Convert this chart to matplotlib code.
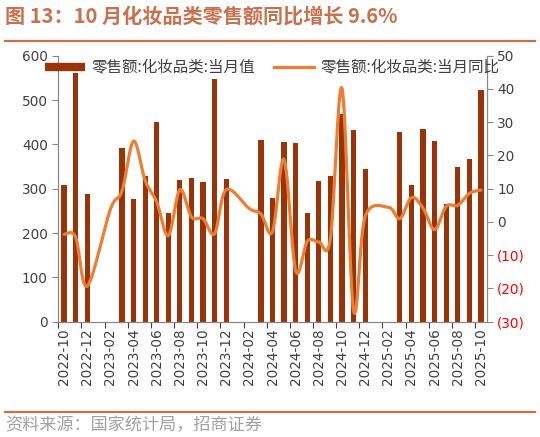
import numpy as np
import matplotlib
matplotlib.use("Agg")
import matplotlib.pyplot as plt
from matplotlib.lines import Line2D

plt.rcParams['font.family'] = ['Noto Sans CJK SC', 'DejaVu Sans']

# months 2022-10 .. 2025-10
months = []
for y in (2022, 2023, 2024, 2025):
    for m in range(1, 13):
        if (y == 2022 and m < 10) or (y == 2025 and m > 10):
            continue
        months.append(f"{y}-{m:02d}")

# retail sales, cosmetics (100m yuan); Jan/Feb not published
sales = [309, 562, 289,
         None, None, 392, 276, 329, 450, 246, 320, 325, 316, 547, 321,
         None, None, 410, 278, 405, 404, 245, 318, 329, 468, 433, 344,
         None, None, 428, 308, 434, 407, 265, 348, 368, 523]

# yoy growth (%), Jan missing
yoy = [-3.7, -4.6, -19.3,
       None, 3.8, 9.3, 24.3, 12.5, 6.0, -4.1, 9.7, 1.5, 1.0, -3.5, 9.7,
       None, 4.0, 2.4, -2.9, 18.8, -14.6, -5.8, -6.0, -5.0, 40.2, -26.6, 1.6,
       None, 4.4, 1.0, 7.3, 4.2, -2.3, 4.7, 5.0, 8.6, 9.6]

bar_color = '#9A3308'
line_color = '#EE7D31'
title_color = '#C8714E'
text_color = '#404040'

fig = plt.figure(figsize=(5.4, 4.37), dpi=100)
ax = fig.add_axes([58.3 / 540, 1 - 321.7 / 437, 428.4 / 540, 266 / 437])
ax2 = ax.twinx()

idx = np.arange(len(months))
bx = [i for i, v in zip(idx, sales) if v is not None]
bv = [v for v in sales if v is not None]
ax.bar(bx, bv, width=0.45, color=bar_color, zorder=2)

# smooth line like excel (cardinal spline in screen space)
px = np.array([i for i, v in zip(idx, yoy) if v is not None], dtype=float)
py = np.array([v for v in yoy if v is not None], dtype=float)
sx, sy = 11.58, 3.325
P = np.column_stack([px * sx, py * sy])
xs, ys = [], []
for i in range(len(P) - 1):
    p0 = P[max(i - 1, 0)]
    p1 = P[i]
    p2 = P[i + 1]
    p3 = P[min(i + 2, len(P) - 1)]
    c1 = p1 + (p2 - p0) / 6
    c2 = p2 - (p3 - p1) / 6
    t = np.linspace(0, 1, 30)[:, None]
    seg = (1 - t) ** 3 * p1 + 3 * (1 - t) ** 2 * t * c1 + 3 * (1 - t) * t ** 2 * c2 + t ** 3 * p2
    xs.extend(seg[:, 0] / sx)
    ys.extend(seg[:, 1] / sy)
ax2.plot(xs, ys, color=line_color, lw=2.3, solid_capstyle='round', zorder=3)

ax.set_xlim(-0.5, len(months) - 0.5)
ax.set_ylim(0, 600)
ax.set_yticks(range(0, 601, 100))
ax2.set_ylim(-30, 50)
rt = list(range(-30, 51, 10))
ax2.set_yticks(rt, [f"({-v})" if v < 0 else str(v) for v in rt])

ax.set_xticks(np.arange(-0.5, len(months) - 1, 2))
ax.set_xticklabels([])
ax.set_xticks(idx[::2], minor=True)
ax.set_xticklabels(months[::2], minor=True, rotation=90)
ax.tick_params(axis='x', which='minor', length=0, pad=5)
ax.tick_params(axis='x', which='major', length=4, color='#888888')

for a in (ax, ax2):
    a.spines['top'].set_visible(False)
    for s in ('left', 'right', 'bottom'):
        a.spines[s].set_color('#888888')
    a.tick_params(labelsize=9.8, colors=text_color, which='both')
    for lab in a.get_xticklabels(minor=True) + a.get_yticklabels():
        lab.set_family('DejaVu Sans')
ax.tick_params(axis='y', length=4, color='#888888')
ax2.tick_params(axis='y', length=4, color='#888888')
for lab, v in zip(ax2.get_yticklabels(), rt):
    lab.set_color('#FF0000' if v < 0 else text_color)

handles = [Line2D([], [], color=bar_color, lw=6, solid_capstyle='butt'),
           Line2D([], [], color=line_color, lw=2.3)]
names = ['零售额:化妆品类:当月值', '零售额:化妆品类:当月同比']
fig.legend(handles, names, loc='upper left', ncol=2, frameon=False,
           bbox_to_anchor=(45 / 540, 1 - 59 / 437), borderpad=0, borderaxespad=0,
           fontsize=11.2, handlelength=2.55, handletextpad=0.45, columnspacing=1.2,
           labelcolor='#404040')

fig.text(5 / 540, 1 - 16 / 437, '图 13：10 月化妆品类零售额同比增长 9.6%',
         fontsize=14.5, fontweight='bold', color=title_color, va='center')
fig.add_artist(Line2D([5 / 540, 535 / 540], [1 - 41 / 437] * 2, color=title_color, lw=1.6))
fig.add_artist(Line2D([5 / 540, 535 / 540], [1 - 412 / 437] * 2, color=title_color, lw=1.6))
fig.text(5 / 540, 1 - 425 / 437, '资料来源：国家统计局，招商证券',
         fontsize=12.3, color='#A0A0A0', va='center')

fig.savefig('out.png', dpi=100)
